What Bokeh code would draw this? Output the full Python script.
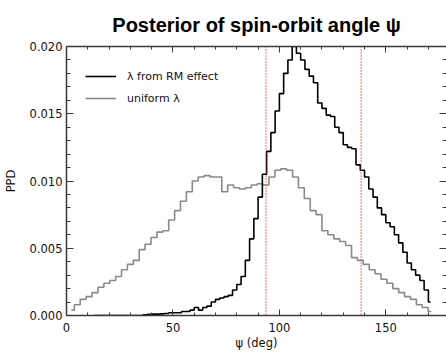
from bokeh.plotting import figure
from bokeh.models import (Range1d, LinearAxis, SingleIntervalTicker, Span, Legend,
                          LegendItem, NumeralTickFormatter, CustomLabelingPolicy)
from bokeh.embed import file_html
from bokeh.resources import INLINE

# ---- data ----
uniform_psi = [2.3, 5.1, 7.8, 10.6, 13.4, 16.2, 18.9, 21.7, 24.5, 27.2,
               30.0, 32.8, 35.5, 38.3, 41.1, 43.9, 46.6, 49.4, 52.2, 54.9,
               57.7, 60.5, 63.2, 66.0, 68.8, 71.6, 74.3, 77.1, 79.9, 82.6,
               85.4, 88.2, 90.9, 93.7, 96.5, 99.3, 102.0, 104.8, 107.6, 110.3,
               113.1, 115.9, 118.6, 121.4, 124.2, 127.0, 129.7, 132.5, 135.3, 138.0,
               140.8, 143.6, 146.3, 149.1, 151.9, 154.7, 157.4, 160.2, 163.0, 165.7,
               168.5, 171.3]
uniform_ppd = [0.0004, 0.0008, 0.0012, 0.0014, 0.0017, 0.0021, 0.0024, 0.0026, 0.0029, 0.0034,
               0.0038, 0.0041, 0.0049, 0.0053, 0.0058, 0.0062, 0.0063, 0.0071, 0.0078, 0.0085,
               0.0092, 0.0100, 0.0103, 0.0104, 0.0103, 0.0103, 0.0092, 0.0097, 0.0095, 0.0094,
               0.0095, 0.0097, 0.0098, 0.0097, 0.0103, 0.0108, 0.0109, 0.0108, 0.0103, 0.0095,
               0.0087, 0.0078, 0.0075, 0.0063, 0.0060, 0.0057, 0.0055, 0.0052, 0.0043, 0.0041,
               0.0038, 0.0034, 0.0031, 0.0027, 0.0024, 0.0020, 0.0017, 0.0014, 0.0012, 0.0008,
               0.0006, 0.0003]

rm_psi = [13, 15, 17, 19, 21, 23, 25, 27, 29, 31, 33, 35,
          37, 39, 41, 43, 45, 47, 49, 51, 53, 55, 57, 59,
          61, 63, 65, 67, 69, 71, 73, 75, 77, 79, 81, 83, 85, 87, 89, 91,
          93, 95, 97, 99, 101, 103, 105, 107, 109, 111, 113, 115, 117, 119,
          121, 123, 125, 127, 129, 131, 133, 135, 137, 139, 141, 143, 145,
          147, 149, 151, 153, 155, 157, 159, 161, 163, 165, 167, 169, 171]
rm_ppd = [0, 0, 0, 0, 0, 0, 0, 0, 0, 0, 0, 0,
          0.00005, 0.00008, 0.0001, 0.0001, 0.00012, 0.00015, 0.0002, 0.0002, 0.0002, 0.0003, 0.0003, 0.0004,
          0.0006, 0.0004, 0.0006, 0.0007, 0.0010, 0.0012, 0.0013, 0.0014, 0.0015, 0.0019, 0.0023, 0.0029,
          0.0041, 0.0057, 0.0072, 0.0088,
          0.0105, 0.0122, 0.0136, 0.0152, 0.0165, 0.0180, 0.0190, 0.0200, 0.0195, 0.0190, 0.0183, 0.0178,
          0.0173, 0.0158,
          0.0154, 0.0149, 0.0148, 0.0140, 0.0136, 0.0127, 0.0125, 0.0124, 0.0112, 0.0108, 0.0103, 0.0094,
          0.0088,
          0.0080, 0.0075, 0.0069, 0.0066, 0.0060, 0.0054, 0.0047, 0.0039, 0.0034, 0.0030, 0.0026, 0.0019,
          0.0010]

interval_bounds = [93.7, 138.4]
labels = ["\u03bb from RM effect", "uniform \u03bb"]

AX = "#3a3a3a"
FONT = "DejaVu Sans"

p = figure(width=446, height=352, output_backend="svg", toolbar_location=None,
           x_range=Range1d(0, 178.5), y_range=Range1d(0, 0.020),
           min_border_left=65, min_border_right=0, min_border_top=45, min_border_bottom=36,
           background_fill_color="white", border_fill_color="white")
p.outline_line_color = None
p.xgrid.visible = False
p.ygrid.visible = False

p.title.text = "Posterior of spin-orbit angle \u03c8"
p.title.align = "center"
p.title.text_font = "Liberation Sans"
p.title.text_font_style = "bold"
p.title.text_font_size = "20px"
p.title.text_color = "black"
p.title.standoff = 22

r_u = p.step(uniform_psi, uniform_ppd, mode="center", line_color="#8a8a8a", line_width=1.6)
r_rm = p.step(rm_psi, rm_ppd, mode="center", line_color="black", line_width=1.6)

for b in interval_bounds:
    p.add_layout(Span(location=b, dimension="height", line_color="#ff3b3b",
                      line_dash="1 2", line_width=1.5))

hide_all = CustomLabelingPolicy(code="""
for (const i of Array.from(indices)) indices.unset(i)
return indices
""")

def style(ax, xdir, show_labels):
    ax.axis_line_color = AX
    ax.axis_line_width = 1.5
    ax.major_tick_line_color = AX
    ax.minor_tick_line_color = AX
    ax.major_tick_out = 0
    ax.minor_tick_out = 0
    if xdir:
        ax.major_tick_in = 6
        ax.minor_tick_in = 3
        ax.ticker = SingleIntervalTicker(interval=50, num_minor_ticks=5)
    else:
        ax.major_tick_in = 7
        ax.minor_tick_in = 4
        ax.ticker = SingleIntervalTicker(interval=0.005, num_minor_ticks=5)
        ax.formatter = NumeralTickFormatter(format="0.000")
    if show_labels:
        ax.major_label_text_font = FONT
        ax.major_label_text_font_size = "11.5px"
        ax.major_label_text_color = "#111111"
        ax.axis_label_text_font = FONT
        ax.axis_label_text_font_size = "11.5px"
        ax.axis_label_text_font_style = "normal"
        ax.axis_label_text_color = "#111111"
    else:
        ax.major_label_policy = hide_all
        ax.major_label_text_font_size = "0px"
        ax.major_label_standoff = 0

xb = p.xaxis[0]
style(xb, True, True)
xb.axis_label = "\u03c8 (deg)"
xb.major_label_standoff = 7
xb.axis_label_standoff = 1

yl = p.yaxis[0]
style(yl, False, True)
yl.axis_label = "PPD"
yl.major_label_standoff = 4
yl.axis_label_standoff = 9

xt = LinearAxis()
style(xt, True, False)
p.add_layout(xt, "above")

yr = LinearAxis()
style(yr, False, False)
yr.axis_line_color = None
p.add_layout(yr, "right")

legend = Legend(items=[LegendItem(label=labels[0], renderers=[r_rm]),
                       LegendItem(label=labels[1], renderers=[r_u])],
                location="top_left", glyph_width=31, glyph_height=22, label_height=22,
                label_standoff=11, spacing=0, padding=10, margin=19,
                border_line_color=None, background_fill_alpha=0,
                label_text_font=FONT, label_text_font_size="11px", label_text_color="#111111")
p.add_layout(legend)

open("out.html", "w").write(file_html(p, INLINE))
